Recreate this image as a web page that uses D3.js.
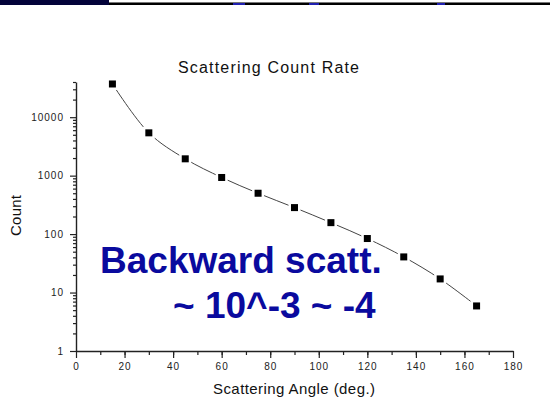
<!DOCTYPE html>
<html><head><meta charset="utf-8">
<script src="https://cdn.jsdelivr.net/npm/d3@7"></script>
<style>body{margin:0;background:#fff}svg{display:block}text{font-family:Arial,"Liberation Sans",sans-serif}</style>
</head><body>
<svg id="c" width="550" height="410"></svg>
<script>
const angles = [15, 30, 45, 60, 75, 90, 105, 120, 135, 150, 165];
const counts = [37000, 5400, 1940, 930, 500, 284, 157, 84, 40.7, 17.1, 5.9];
const xTicks = [0, 20, 40, 60, 80, 100, 120, 140, 160, 180];
const yTicks = [1, 10, 100, 1000, 10000];
const title = "Scattering Count Rate";
const xLabel = "Scattering Angle (deg.)";
const yLabel = "Count";
const note1 = "Backward scatt.";
const note2 = "~ 10^-3 ~ -4";

const svg = d3.select("#c");
// slide decoration at top
svg.append("rect").attr("x",0).attr("y",0).attr("width",550).attr("height",5).attr("fill","#000");
svg.append("rect").attr("x",0).attr("y",0).attr("width",550).attr("height",2).attr("fill","#fff");
svg.append("rect").attr("x",0).attr("y",2).attr("width",550).attr("height",1).attr("fill","#777");
svg.append("rect").attr("x",0).attr("y",0).attr("width",109).attr("height",5).attr("fill","#03033a");
[[233,12],[309,10],[437,8]].forEach(([x,w])=>svg.append("rect").attr("x",x).attr("y",3).attr("width",w).attr("height",2).attr("fill","#2020b0"));

const x = d3.scaleLinear().domain([0,180]).range([76,513]);
const y = d3.scaleLog().domain([1,40000]).range([351,82]);

const ax = svg.append("g").attr("transform","translate(0,351)");
ax.call(d3.axisBottom(x).tickValues(d3.range(10,180,10)).tickSize(4).tickFormat(""));
ax.call(g=>g.select(".domain").remove());
const ax2 = svg.append("g").attr("transform","translate(0,351)")
  .call(d3.axisBottom(x).tickValues(xTicks).tickSize(7).tickSizeOuter(0).tickPadding(5).tickFormat(d=>d));
const ay = svg.append("g").attr("transform","translate(76,0)");
const minor = [];
for (let e=0;e<5;e++) for (let m=2;m<=9;m++){const v=m*Math.pow(10,e); if(v<=40000) minor.push(v);}
ay.call(d3.axisLeft(y).tickValues(minor).tickSize(3).tickFormat(""));
ay.call(g=>g.select(".domain").remove());
svg.append("g").attr("transform","translate(76,0)")
  .call(d3.axisLeft(y).tickValues(yTicks).tickSize(6).tickSizeOuter(0).tickPadding(6).tickFormat(d=>d));
svg.selectAll(".tick line").attr("stroke","#222").attr("stroke-width",1.2);
svg.selectAll(".domain").attr("stroke","#222").attr("stroke-width",1.4);
svg.selectAll(".tick text").attr("font-size",10).attr("fill","#222").attr("letter-spacing","1px").attr("font-family","Arial, Liberation Sans, sans-serif");

const pts = angles.map((a,i)=>[a,counts[i]]);
svg.append("path").datum(pts)
  .attr("d", d3.line().x(d=>x(d[0])).y(d=>y(d[1])).curve(d3.curveCatmullRom))
  .attr("fill","none").attr("stroke","#444").attr("stroke-width",1);
svg.selectAll("rect.m").data(pts).enter().append("rect").attr("class","m")
  .attr("x",d=>x(d[0])-3.5).attr("y",d=>y(d[1])-3.5).attr("width",7).attr("height",7)
  .attr("fill","#000").attr("stroke","#fff").attr("stroke-width",5).attr("paint-order","stroke");

svg.append("text").attr("x",178).attr("y",73).attr("font-size",16).attr("textLength",181).attr("fill","#111").text(title);
svg.append("text").attr("x",294).attr("y",394).attr("text-anchor","middle").attr("font-size",15).attr("fill","#111").attr("textLength",162).text(xLabel);
svg.append("text").attr("transform","translate(21,215.5) rotate(-90)").attr("text-anchor","middle").attr("font-size",15).attr("fill","#111").attr("textLength",41).text(yLabel);

svg.append("text").attr("x",100).attr("y",273).attr("font-size",37).attr("font-weight","bold").attr("fill","#0a0a9e").text(note1);
svg.append("text").attr("x",173).attr("y",318).attr("font-size",37).attr("font-weight","bold").attr("fill","#0a0a9e").text(note2);
</script>
</body></html>
